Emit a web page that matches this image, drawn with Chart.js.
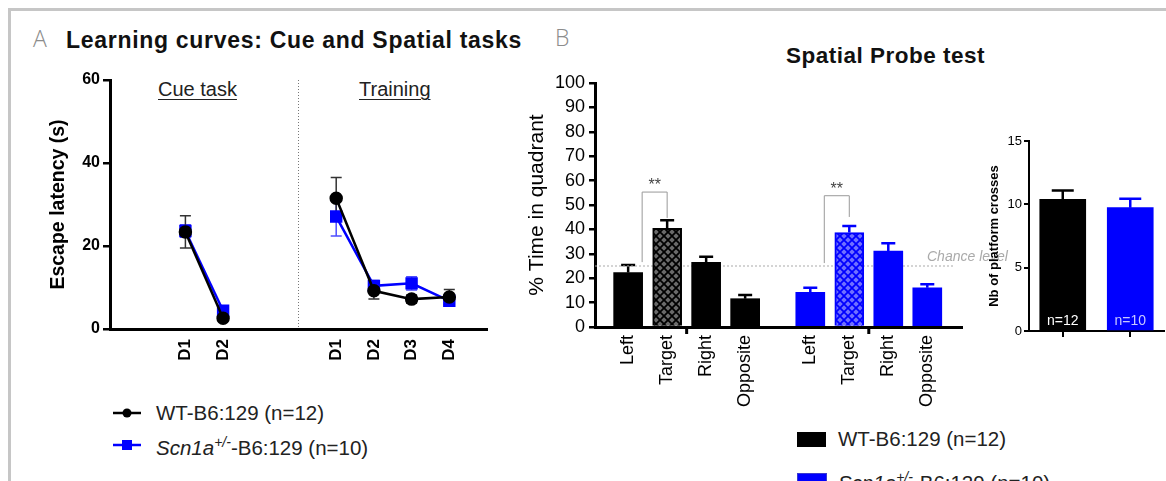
<!DOCTYPE html>
<html>
<head>
<meta charset="utf-8">
<script src="https://cdn.jsdelivr.net/npm/chart.js@4.4.0/dist/chart.umd.min.js"></script>
<style>
  body { margin: 0; width: 1166px; height: 481px; overflow: hidden; background: #fff;
         position: relative; font-family: "Liberation Sans", Arial, sans-serif; color: #222; }
  .abs { position: absolute; white-space: nowrap; line-height: 1; }
  canvas { position: absolute; }
  .frame { position: absolute; left: 8px; top: 8px; right: -10px; bottom: -10px;
           border-left: 3px solid #c6c6c6; border-top: 3px solid #c6c6c6; }
  .letter { font-family: "Open Sans", sans-serif; font-weight: 300; font-size: 23px; color: #8c8c8c; }
  .title { font-weight: bold; font-size: 23px; letter-spacing: 0.7px; color: #111; }
  .sect { font-size: 20px; text-decoration: underline; text-decoration-thickness: 1px; text-underline-offset: 3px; color: #222; }
  .leg { font-size: 20.5px; color: #222; }
  .leg sup { font-size: 14px; vertical-align: 8px; font-style: italic; }
</style>
</head>
<body>
<div class="frame"></div>

<div class="abs letter" style="left:33px;top:27px">A</div>
<div class="abs title" style="left:66px;top:29px">Learning curves: Cue and Spatial tasks</div>
<div class="abs letter" style="left:555px;top:26px">B</div>
<div class="abs title" style="left:786px;top:45px;font-size:22.5px;letter-spacing:0.5px">Spatial Probe test</div>

<div class="abs sect" style="left:158px;top:79px">Cue task</div>
<div class="abs sect" style="left:359px;top:79px">Training</div>

<canvas id="cA" width="470" height="320" style="left:40px;top:60px"></canvas>
<canvas id="cB" width="490" height="360" style="left:520px;top:60px"></canvas>
<canvas id="cC" width="206" height="240" style="left:960px;top:110px"></canvas>

<!-- legend A -->
<svg class="abs" style="left:110px;top:402px" width="34" height="54">
  <line x1="3" y1="11" x2="31" y2="11" stroke="#000" stroke-width="2.5"/>
  <circle cx="17" cy="11" r="4.5" fill="#000"/>
  <line x1="3" y1="43" x2="31" y2="43" stroke="#0000ff" stroke-width="2.5"/>
  <rect x="12" y="38" width="10" height="10" fill="#0000ff"/>
</svg>
<div class="abs leg" style="left:156px;top:403px">WT-B6:129 (n=12)</div>
<div class="abs leg" style="left:156px;top:435px"><i>Scn1a</i><sup>+/-</sup>-B6:129 (n=10)</div>

<!-- legend B -->
<div class="abs" style="left:797px;top:432px;width:29px;height:15px;background:#000"></div>
<div class="abs" style="left:797px;top:473px;width:28px;height:14px;background:#0000ff;border:1px solid #3a3ad0"></div>
<div class="abs leg" style="left:838px;top:429px">WT-B6:129 (n=12)</div>
<div class="abs leg" style="left:838px;top:470px"><i>Scn1a</i><sup>+/-</sup>-B6:129 (n=10)</div>

<script>
// ---- data: panel A (escape latency, s) ----
const cueDays = ['D1', 'D2'];
const trainDays = ['D1', 'D2', 'D3', 'D4'];
const wtCue = [23.4, 2.6];
const wtCueErr = [3.9, 0.6];
const scnCue = [23.6, 4.4];
const scnCueErr = [1.5, 1.0];
const wtTrain = [31.5, 9.2, 7.2, 7.7];
const wtTrainErr = [5.0, 2.0, 1.0, 1.8];
const scnTrain = [27.1, 10.4, 11.0, 6.8];
const scnTrainErr = [4.7, 1.3, 1.6, 1.0];

// ---- data: panel B (% time in quadrant) ----
const quadrants = ['Left', 'Target', 'Right', 'Opposite'];
const wtQuad = [22.3, 40.4, 26.5, 11.6];
const wtQuadErr = [3.1, 3.4, 2.3, 1.5];
const scnQuad = [14.2, 38.7, 31.1, 16.1];
const scnQuadErr = [1.9, 2.7, 3.2, 1.4];
const chanceLevel = 25;
// significance brackets: [top, left leg end, right leg end]
const wtSig = [55.3, 26.6, 44.7];
const scnSig = [53.8, 26.2, 45.1];

// ---- data: panel C (platform crosses) ----
const crossGroups = ['n=12', 'n=10'];
const crosses = [10.4, 9.74];
const crossesErr = [0.7, 0.7];

const BLUE = '#0000ff';
Chart.defaults.font.family = '"Liberation Sans", Arial, sans-serif';
Chart.defaults.color = '#000';
Chart.defaults.animation = false;

// layout of the x slots (not data)
const cueStart = 2, trainStart = 6, divider = 5;
const slotGap = 0.67;
const quadSlot = i => i + (i >= 4 ? slotGap : 0);

function drawErrors(chart, sets) {
  const ctx = chart.ctx, ys = chart.scales.y;
  sets.forEach(s => {
    const meta = chart.getDatasetMeta(s.dataset);
    const ds = chart.data.datasets[s.dataset];
    ctx.save();
    ctx.lineWidth = s.width;
    meta.data.forEach((el, i) => {
      const d = ds.data[i];
      const v = typeof d === 'object' ? d.y : d;
      const e = s.err[i];
      const top = ys.getPixelForValue(v + e);
      const bot = ys.getPixelForValue(s.both ? v - e : v);
      const x = el.x, h = s.cap / 2;
      ctx.strokeStyle = Array.isArray(s.color) ? s.color[i] : s.color;
      ctx.beginPath();
      ctx.moveTo(x, bot); ctx.lineTo(x, top);
      ctx.moveTo(x - h, top); ctx.lineTo(x + h, top);
      if (s.both) { ctx.moveTo(x - h, bot); ctx.lineTo(x + h, bot); }
      ctx.stroke();
    });
    ctx.restore();
  });
}

const errorBars = {
  id: 'errorBars',
  beforeDatasetsDraw(chart, args, opts) {
    if (opts.sets) drawErrors(chart, opts.sets);
  }
};
Chart.register(errorBars);

function hatch(base, ink) {
  const t = document.createElement('canvas');
  t.width = t.height = 8;
  const g = t.getContext('2d');
  g.fillStyle = base;
  g.fillRect(0, 0, 8, 8);
  g.strokeStyle = ink;
  g.lineWidth = 1.8;
  g.beginPath();
  g.moveTo(0, 0); g.lineTo(8, 8);
  g.moveTo(8, 0); g.lineTo(0, 8);
  g.stroke();
  return g.createPattern(t, 'repeat');
}

// ================= Panel A =================
const xy = (start, vals) => vals.map((v, i) => ({ x: start + i, y: v }));
const aTicks = cueDays.map((d, i) => ({ value: cueStart + i, label: d }))
  .concat(trainDays.map((d, i) => ({ value: trainStart + i, label: d })));

const lineStyle = (color, shape, r) => ({
  borderColor: color, backgroundColor: color, pointBackgroundColor: color,
  pointBorderColor: color, pointStyle: shape, pointRadius: r, borderWidth: 2.5,
  tension: 0
});

new Chart(document.getElementById('cA'), {
  type: 'line',
  data: {
    datasets: [
      { data: xy(cueStart, wtCue), ...lineStyle('#000', 'circle', 5.5) },
      { data: xy(trainStart, wtTrain), ...lineStyle('#000', 'circle', 5.5) },
      { data: xy(cueStart, scnCue), ...lineStyle(BLUE, 'rect', 7) },
      { data: xy(trainStart, scnTrain), ...lineStyle(BLUE, 'rect', 7) },
    ]
  },
  options: {
    responsive: false,
    layout: { padding: { left: 7, top: 20, right: 23, bottom: 0 } },
    plugins: {
      legend: { display: false },
      tooltip: { enabled: false },
      errorBars: {
        sets: [
          { dataset: 2, err: scnCueErr, color: '#4d4dff', width: 1.5, cap: 11, both: true },
          { dataset: 3, err: scnTrainErr, color: '#4d4dff', width: 1.5, cap: 11, both: true },
          { dataset: 0, err: wtCueErr, color: '#333', width: 1.5, cap: 11, both: true },
          { dataset: 1, err: wtTrainErr, color: '#333', width: 1.5, cap: 11, both: true },
        ]
      }
    },
    scales: {
      x: {
        type: 'linear', min: 0, max: 10,
        afterBuildTicks: ax => { ax.ticks = aTicks.map(t => ({ value: t.value })); },
        afterFit: ax => { ax.height = 51; },
        ticks: {
          autoSkip: false, minRotation: 90, maxRotation: 90, padding: 10,
          font: { size: 17, weight: 'bold' }, color: '#000',
          callback: (v, i) => aTicks[i].label
        },
        grid: { display: false, drawTicks: false },
        border: { color: '#000', width: 3 }
      },
      y: {
        min: 0, max: 60,
        afterFit: ax => { ax.width = 63; },
        ticks: { stepSize: 20, padding: 3, font: { size: 16, weight: 'bold' }, color: '#000' },
        grid: { drawOnChartArea: false, drawTicks: true, tickLength: 7, color: '#000', lineWidth: 2.5 },
        border: { color: '#000', width: 3 },
        title: { display: true, text: 'Escape latency (s)', font: { size: 19.5, weight: 'bold' }, color: '#000', padding: 0 }
      }
    }
  },
  plugins: [{
    id: 'divider',
    beforeDatasetsDraw(chart) {
      const { ctx, chartArea } = chart;
      const x = chart.scales.x.getPixelForValue(divider);
      ctx.save();
      ctx.strokeStyle = '#777';
      ctx.lineWidth = 1;
      ctx.setLineDash([1, 2]);
      ctx.beginPath();
      ctx.moveTo(x, chartArea.top);
      ctx.lineTo(x, chartArea.bottom);
      ctx.stroke();
      ctx.restore();
    }
  }]
});

// ================= Panel B =================
const wtTargetFill = hatch('#6a6a6a', '#000');
const scnTargetFill = hatch('#7070ff', BLUE);
const bTicks = quadrants.concat(quadrants).map((q, i) => ({ value: quadSlot(i), label: q }));

new Chart(document.getElementById('cB'), {
  type: 'bar',
  data: {
    datasets: [
      {
        data: wtQuad.map((v, i) => ({ x: quadSlot(i), y: v })),
        backgroundColor: quadrants.map(q => q === 'Target' ? wtTargetFill : '#000'),
        borderColor: '#000',
        borderWidth: quadrants.map(q => q === 'Target' ? 2 : 0),
        barThickness: 29, grouped: false
      },
      {
        data: scnQuad.map((v, i) => ({ x: quadSlot(i + 4), y: v })),
        backgroundColor: quadrants.map(q => q === 'Target' ? scnTargetFill : BLUE),
        borderColor: BLUE,
        borderWidth: quadrants.map(q => q === 'Target' ? 2 : 0),
        barThickness: 29, grouped: false
      }
    ]
  },
  options: {
    responsive: false,
    layout: { padding: { left: 5, top: 23, right: 48, bottom: 0 } },
    plugins: {
      legend: { display: false },
      tooltip: { enabled: false },
      errorBars: {
        sets: [
          { dataset: 0, err: wtQuadErr, color: '#000', width: 2.5, cap: 14 },
          { dataset: 1, err: scnQuadErr, color: BLUE, width: 2.5, cap: 14 }
        ]
      }
    },
    scales: {
      x: {
        type: 'linear', min: -0.85, max: 8.56, offset: false,
        afterBuildTicks: ax => { ax.ticks = bTicks.map(t => ({ value: t.value })); },
        afterFit: ax => { ax.height = 93; },
        ticks: {
          autoSkip: false, minRotation: 90, maxRotation: 90, padding: 8,
          font: { size: 18 }, color: '#000',
          callback: (v, i) => bTicks[i].label
        },
        grid: { display: false, drawTicks: false },
        border: { color: '#000', width: 3 }
      },
      y: {
        min: 0, max: 100,
        afterFit: ax => { ax.width = 70; },
        ticks: { stepSize: 10, autoSkip: false, padding: 4, font: { size: 18 }, color: '#000' },
        grid: { drawOnChartArea: false, drawTicks: true, tickLength: 6, color: '#000', lineWidth: 2.5 },
        border: { color: '#000', width: 3 },
        title: { display: true, text: '% Time in quadrant', font: { size: 21 }, color: '#000', padding: 0 }
      }
    }
  },
  plugins: [{
    id: 'probeExtras',
    beforeDatasetsDraw(chart) {
      const { ctx, chartArea } = chart;
      const ys = chart.scales.y;
      ctx.save();
      // chance level
      const yc = ys.getPixelForValue(chanceLevel);
      ctx.strokeStyle = '#aaa';
      ctx.lineWidth = 1.2;
      ctx.setLineDash([2, 2]);
      ctx.beginPath();
      ctx.moveTo(chartArea.left, yc);
      ctx.lineTo(chartArea.right - 9, yc);
      ctx.stroke();
      ctx.setLineDash([]);
      ctx.fillStyle = '#aaa';
      ctx.font = 'italic 14px "Liberation Sans", Arial, sans-serif';
      ctx.textBaseline = 'bottom';
      ctx.fillText('Chance level', chartArea.right - 35, yc - 2);
      ctx.restore();
    },
    afterDatasetsDraw(chart) {
      const { ctx, chartArea } = chart;
      const xs = chart.scales.x, ys = chart.scales.y;
      ctx.save();
      // group ticks below the axis
      ctx.strokeStyle = '#000';
      ctx.lineWidth = 3;
      [1, 5].forEach(i => {
        const x = xs.getPixelForValue((quadSlot(i) + quadSlot(i + 1)) / 2);
        ctx.beginPath();
        ctx.moveTo(x, chartArea.bottom);
        ctx.lineTo(x, chartArea.bottom + 7);
        ctx.stroke();
      });
      // significance brackets
      [[0, wtSig], [4, scnSig]].forEach(([i, s]) => {
        const xl = xs.getPixelForValue(quadSlot(i)) + 14;
        const xr = xs.getPixelForValue(quadSlot(i + 1));
        const yt = ys.getPixelForValue(s[0]);
        ctx.strokeStyle = '#999';
        ctx.lineWidth = 1;
        ctx.beginPath();
        ctx.moveTo(xl, ys.getPixelForValue(s[1]));
        ctx.lineTo(xl, yt);
        ctx.lineTo(xr, yt);
        ctx.lineTo(xr, ys.getPixelForValue(s[2]));
        ctx.stroke();
        ctx.fillStyle = '#444';
        ctx.font = '16px "Liberation Sans", Arial, sans-serif';
        ctx.textAlign = 'center';
        ctx.textBaseline = 'bottom';
        ctx.fillText('**', (xl + xr) / 2, yt + 2);
      });
      ctx.restore();
    }
  }]
});

// ================= Panel C =================
new Chart(document.getElementById('cC'), {
  type: 'bar',
  data: {
    labels: crossGroups,
    datasets: [{
      data: crosses,
      backgroundColor: ['#000', BLUE],
      barThickness: 46
    }]
  },
  options: {
    responsive: false,
    layout: { padding: { left: 27, top: 31, right: 2, bottom: 0 } },
    plugins: {
      legend: { display: false },
      tooltip: { enabled: false },
      errorBars: {
        sets: [{ dataset: 0, err: crossesErr, color: ['#000', BLUE], width: 2.5, cap: 22 }]
      }
    },
    scales: {
      x: {
        afterFit: ax => { ax.height = 19; },
        ticks: { display: false },
        grid: { offset: false, drawOnChartArea: false, drawTicks: true, tickLength: 6, color: '#000', lineWidth: 2 },
        border: { color: '#000', width: 2 }
      },
      y: {
        min: 0, max: 15,
        afterFit: ax => { ax.width = 42; },
        ticks: { stepSize: 5, padding: 2, font: { size: 13 }, color: '#000' },
        grid: { drawOnChartArea: false, drawTicks: true, tickLength: 5, color: '#000', lineWidth: 2 },
        border: { color: '#000', width: 2 },
        title: { display: true, text: 'Nb of platform crosses', font: { size: 13, weight: 'bold' }, color: '#000', padding: 0 }
      }
    }
  },
  plugins: [{
    id: 'nLabels',
    afterDatasetsDraw(chart) {
      const ctx = chart.ctx, ys = chart.scales.y;
      const colors = ['#fff', '#c8c8ff'];
      ctx.save();
      ctx.font = '14px "Liberation Sans", Arial, sans-serif';
      ctx.textAlign = 'center';
      ctx.textBaseline = 'middle';
      chart.getDatasetMeta(0).data.forEach((el, i) => {
        ctx.fillStyle = colors[i];
        ctx.fillText(crossGroups[i], el.x, ys.getPixelForValue(0) - 10);
      });
      ctx.restore();
    }
  }]
});
</script>
</body>
</html>
